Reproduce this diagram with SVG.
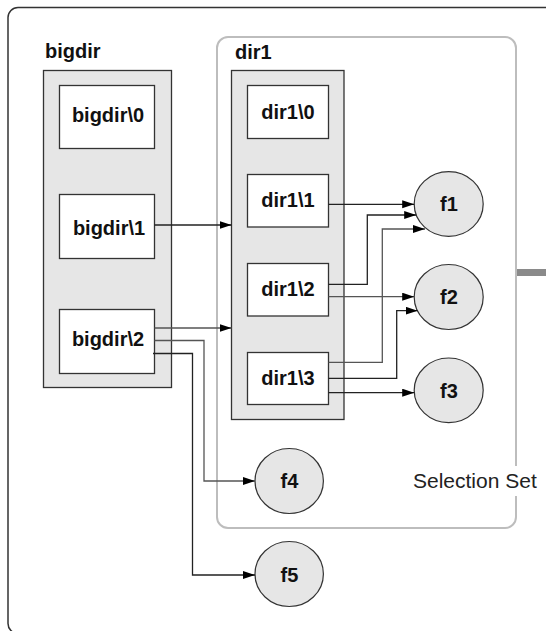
<svg xmlns="http://www.w3.org/2000/svg" width="546" height="631" viewBox="0 0 546 631">
<defs>
<style>
.frame{fill:#fff;stroke:#333;stroke-width:1.5}
.sel{fill:none;stroke:#bdbdbd;stroke-width:2}
.cont{fill:#e6e6e6;stroke:#333;stroke-width:1.3}
.box{fill:#fff;stroke:#333;stroke-width:1.3}
.file{fill:#e6e6e6;stroke:#333;stroke-width:1.2}
.lbl{font-family:"Liberation Sans",Arial,sans-serif;font-weight:bold;font-size:20px;fill:#111;text-anchor:middle}
.title{font-family:"Liberation Sans",Arial,sans-serif;font-weight:bold;font-size:20px;fill:#111}
.plain{font-family:"Liberation Sans",Arial,sans-serif;font-size:21px;fill:#222}
.edge{fill:none;stroke:#222;stroke-width:1.3;marker-end:url(#arr)}
.edge2{fill:none;stroke:#555;stroke-width:1.3;marker-end:url(#arr)}
</style>
<marker id="arr" markerUnits="userSpaceOnUse" markerWidth="13" markerHeight="9" refX="12" refY="4" orient="auto">
<path d="M0,0 L12,4 L0,8 z" fill="#000"/>
</marker>
</defs>

<rect class="frame" x="8" y="7.5" width="600" height="626" rx="10"/>
<rect x="516" y="269" width="30" height="7" fill="#8a8a8a"/>

<g id="selection-set">
<rect class="sel" x="217" y="37" width="299" height="491" rx="11"/>
<rect x="410" y="466" width="132" height="30" fill="#fff"/>
<text class="plain" x="413" y="488">Selection Set</text>
</g>

<g id="bigdir">
<text class="title" x="45" y="58">bigdir</text>
<rect class="cont" x="43.5" y="70.5" width="128" height="317"/>
</g>
<g id="bigdir0">
<rect class="box" x="59.5" y="85.5" width="95" height="63"/>
<text class="lbl" x="108" y="122">bigdir\0</text>
</g>
<g id="bigdir1">
<rect class="box" x="59.5" y="194.5" width="95" height="64"/>
<text class="lbl" x="109" y="235">bigdir\1</text>
</g>
<g id="bigdir2">
<rect class="box" x="59.5" y="309.5" width="95" height="64"/>
<text class="lbl" x="108" y="346">bigdir\2</text>
</g>

<g id="dir1">
<text class="title" x="235" y="59">dir1</text>
<rect class="cont" x="231.5" y="70.5" width="112.5" height="349"/>
</g>
<g id="dir1-0">
<rect class="box" x="247.5" y="85.5" width="81" height="53"/>
<text class="lbl" x="288" y="118.5">dir1\0</text>
</g>
<g id="dir1-1">
<rect class="box" x="247.5" y="174.5" width="81" height="52.5"/>
<text class="lbl" x="288" y="207">dir1\1</text>
</g>
<g id="dir1-2">
<rect class="box" x="247.5" y="263.5" width="81" height="52.5"/>
<text class="lbl" x="288" y="296">dir1\2</text>
</g>
<g id="dir1-3">
<rect class="box" x="247.5" y="352.5" width="81" height="52"/>
<text class="lbl" x="288" y="384.5">dir1\3</text>
</g>

<g id="f1">
<ellipse class="file" cx="448.7" cy="204" rx="34.5" ry="32.3"/>
<text class="lbl" x="449" y="211">f1</text>
</g>
<g id="f2">
<ellipse class="file" cx="448.7" cy="297" rx="34.5" ry="32.5"/>
<text class="lbl" x="449" y="304">f2</text>
</g>
<g id="f3">
<ellipse class="file" cx="448.7" cy="390.3" rx="34.5" ry="32.3"/>
<text class="lbl" x="449" y="397.5">f3</text>
</g>
<g id="f4">
<ellipse class="file" cx="289.2" cy="481" rx="34.2" ry="32.5"/>
<text class="lbl" x="289.5" y="488">f4</text>
</g>
<g id="f5">
<ellipse class="file" cx="289.2" cy="574" rx="34.2" ry="32.5"/>
<text class="lbl" x="289.5" y="581.5">f5</text>
</g>

<g id="connectors">
<polyline class="edge" points="154.5,225 231.5,225"/>
<polyline class="edge2" points="154.5,328 231.5,328"/>
<polyline class="edge2" points="154.5,340.5 204,340.5 204,481 255,481"/>
<polyline class="edge" points="153,353.5 192.5,353.5 192.5,575 255,575"/>
<polyline class="edge" points="328.5,204.3 414.2,204.3"/>
<polyline class="edge" points="328.5,284.3 367.3,284.3 367.3,215 416.2,215"/>
<polyline class="edge2" points="328.5,362.3 382.3,362.3 382.3,229 425,229"/>
<polyline class="edge2" points="328.5,296.7 414.2,296.7"/>
<polyline class="edge" points="328.5,378.3 396.7,378.3 396.7,310.7 417.6,310.7"/>
<polyline class="edge" points="328.5,392.7 414.2,392.7"/>
</g>
</svg>
